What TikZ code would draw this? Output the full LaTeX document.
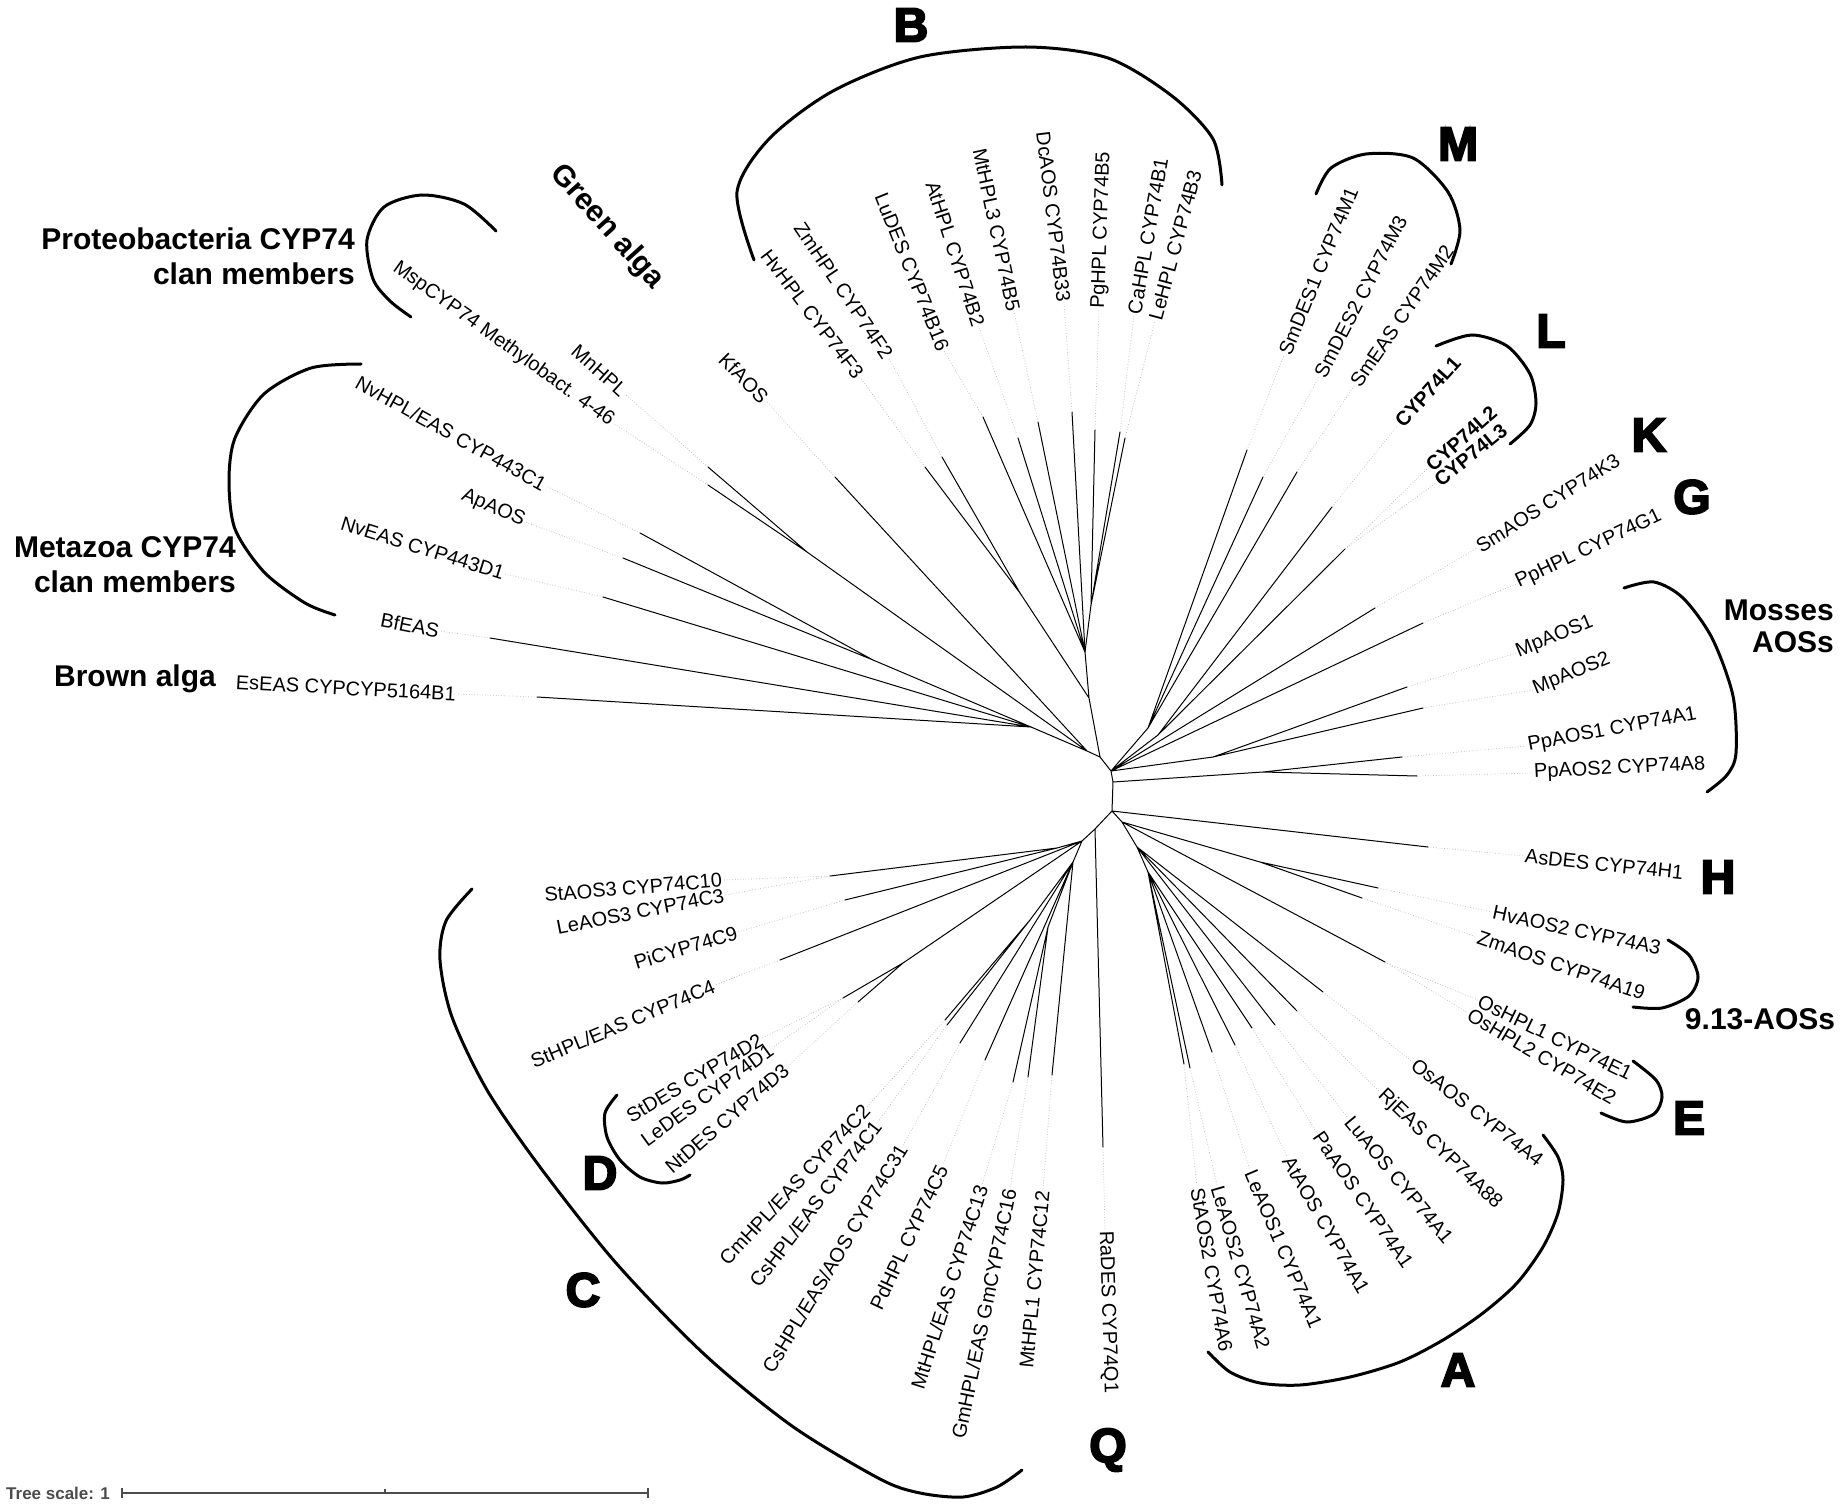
\documentclass[tikz,border=0pt]{standalone}
\usepackage{fontspec}
\setmainfont{Liberation Sans}
\newfontfamily\heavyfont{Liberation Sans}[BoldFeatures={FakeBold=4}]
\usetikzlibrary{calc}
\tikzset{
  br/.style={line width=1pt, line cap=round},
  leader/.style={gray!55, line width=0.7pt, dotted},
  lbl/.style={font=\fontsize{20}{24}\selectfont, inner sep=1pt},
  lblb/.style={font=\bfseries\fontsize{20}{24}\selectfont, inner sep=1pt},
  grp/.style={font=\bfseries\fontsize{30}{34}\selectfont, inner sep=0pt},
  big/.style={font=\heavyfont\bfseries\fontsize{48}{50}\selectfont, inner sep=0pt},
  brk/.style={line width=3pt, line cap=round},
}
\newcommand\lblR[6][lbl]{\node[#1,anchor=west,rotate=#5] (#2) at (#4) {#6};\draw[leader] (#3) -- (#2.west);}
\newcommand\lblL[6][lbl]{\node[#1,anchor=east,rotate=#5] (#2) at (#4) {#6};\draw[leader] (#3) -- (#2.east);}
\begin{document}
\begin{tikzpicture}[x=1pt,y=-1pt]
\path[use as bounding box] (0,0) rectangle (1840,1506);

% internal nodes
\coordinate (N0) at (1111,771);
\coordinate (N1) at (1113,782);
\coordinate (N2) at (1112,811);
\coordinate (NB) at (1100,757);
\coordinate (P2) at (1087,751);
\coordinate (P1) at (1031,727);
\coordinate (Ma) at (873,660);
\coordinate (Pr) at (807,552);
\coordinate (Bn1) at (1089,698);
\coordinate (F) at (1020,593);
\coordinate (Bn2) at (1085,652);
\coordinate (Bn3) at (1091,605);
\coordinate (Mm) at (1148,728);
\coordinate (Ln) at (1158,735);
\coordinate (Mp) at (1213,757);
\coordinate (Pp) at (1263,772);
\coordinate (An1) at (1122,822);
\coordinate (A9) at (1260,862);
\coordinate (An2) at (1137,847);
\coordinate (An3) at (1148,872);
\coordinate (Qn) at (1095,829);
\coordinate (Cn) at (1082,841);
\coordinate (Ca) at (1057,848);
\coordinate (Dn) at (903,963);
\coordinate (Cl) at (1073,862);
\coordinate (CmCs) at (1030,920);
\coordinate (MG) at (1048,927);

% branch ends
\coordinate (eEsEAS) at (537,697);
\coordinate (eBfEAS) at (490,638);
\coordinate (eNvEAS) at (603,597);
\coordinate (eApAOS) at (623,558);
\coordinate (eNvHPL) at (640,533);
\coordinate (eMsp) at (708,485);
\coordinate (eMnHPL) at (708,467);
\coordinate (eKfAOS) at (835,477);
\coordinate (eHvHPL) at (925,467);
\coordinate (eZmHPL) at (942,457);
\coordinate (eLuDES) at (983,417);
\coordinate (eAtHPL) at (1018,438);
\coordinate (eMtHPL3) at (1038,422);
\coordinate (eDcAOS) at (1072,412);
\coordinate (ePgHPL) at (1095,430);
\coordinate (eCaHPL) at (1120,432);
\coordinate (eLeHPL) at (1125,438);
\coordinate (eSmDES1) at (1247,450);
\coordinate (eSmDES2) at (1263,477);
\coordinate (eSmEAS) at (1297,472);
\coordinate (eL1) at (1332,507);
\coordinate (eL23) at (1345,549);
\coordinate (eSmAOS) at (1375,608);
\coordinate (ePpHPL) at (1423,623);
\coordinate (eMpAOS1) at (1407,687);
\coordinate (eMpAOS2) at (1423,708);
\coordinate (ePpAOS1) at (1402,757);
\coordinate (ePpAOS2) at (1417,776);
\coordinate (eAsDES) at (1428,847);
\coordinate (eHvAOS2) at (1378,888);
\coordinate (eZmAOS) at (1362,898);
\coordinate (eE) at (1385,962);
\coordinate (eOsAOS) at (1323,992);
\coordinate (eRjEAS) at (1297,1011);
\coordinate (eLuAOS) at (1275,1025);
\coordinate (ePaAOS) at (1252,1028);
\coordinate (eAtAOS) at (1235,1045);
\coordinate (eLeAOS1) at (1212,1052);
\coordinate (eLeAOS2) at (1190,1068);
\coordinate (eStAOS2) at (1184,1064);
\coordinate (eRaDES) at (1103,1147);
\coordinate (eMtHPL1) at (1052,1075);
\coordinate (eGm) at (1028,1077);
\coordinate (eMtEAS) at (1013,1082);
\coordinate (ePd) at (985,1060);
\coordinate (eCsAOS) at (960,1043);
\coordinate (eCs) at (947,1025);
\coordinate (eCm) at (945,1020);
\coordinate (eD12) at (843,998);
\coordinate (eD3) at (858,1002);
\coordinate (eStHPL) at (780,960);
\coordinate (ePi) at (845,900);
\coordinate (eSL) at (830,876);

% branches
\draw[br] (NB) -- (N0) -- (N1) -- (N2);
\draw[br] (P2) -- (NB) (P1) -- (P2) (Pr) -- (P2) (eKfAOS) -- (P2);
\draw[br] (Ma) -- (P1) (eNvEAS) -- (P1) (eBfEAS) -- (P1) (eEsEAS) -- (P1);
\draw[br] (eNvHPL) -- (Ma) -- (eApAOS);
\draw[br] (eMnHPL) -- (Pr) -- (eMsp);
\draw[br] (Bn1) -- (NB) (F) -- (Bn1) (Bn2) -- (Bn1) (Bn3) -- (Bn2);
\draw[br] (eHvHPL) -- (F) -- (eZmHPL);
\draw[br] (eLuDES) -- (Bn2) (eAtHPL) -- (Bn2) (eMtHPL3) -- (Bn2) (eDcAOS) -- (Bn2);
\draw[br] (ePgHPL) -- (Bn3) (eCaHPL) -- (Bn3) (eLeHPL) -- (Bn3);
\draw[br] (Mm) -- (N0) (Ln) -- (N0) (Mp) -- (N0) (eSmAOS) -- (N0) (ePpHPL) -- (N0);
\draw[br] (eSmDES1) -- (Mm) (eSmDES2) -- (Mm) (eSmEAS) -- (Mm);
\draw[br] (eL1) -- (Ln) -- (eL23);
\draw[br] (eMpAOS1) -- (Mp) -- (eMpAOS2);
\draw[br] (Pp) -- (N1) (ePpAOS1) -- (Pp) -- (ePpAOS2);
\draw[br] (eAsDES) -- (N2) (An1) -- (N2) (Qn) -- (N2);
\draw[br] (A9) -- (An1) (eE) -- (An1) (An2) -- (An1);
\draw[br] (eHvAOS2) -- (A9) -- (eZmAOS);
\draw[br] (eOsAOS) -- (An2) (eRjEAS) -- (An2) (eLuAOS) -- (An2) (An3) -- (An2);
\draw[br] (ePaAOS) -- (An3) (eAtAOS) -- (An3) (eLeAOS1) -- (An3) (eLeAOS2) -- (An3) (eStAOS2) -- (An3);
\draw[br] (eRaDES) -- (Qn) (Cn) -- (Qn);
\draw[br] (Ca) -- (Cn) (eStHPL) -- (Cn) (Dn) -- (Cn) (Cl) -- (Cn);
\draw[br] (eSL) -- (Ca) -- (ePi);
\draw[br] (eD12) -- (Dn) -- (eD3);
\draw[br] (CmCs) -- (Cl) (eCsAOS) -- (Cl) (ePd) -- (Cl) (MG) -- (Cl) (eMtHPL1) -- (Cl);
\draw[br] (eCm) -- (CmCs) -- (eCs);
\draw[br] (eMtEAS) -- (MG) -- (eGm);

% labels left
\lblL{lEsEAS}{eEsEAS}{457,694}{-3}{EsEAS CYPCYP5164B1}
\lblL{lBfEAS}{eBfEAS}{440,631}{-11}{BfEAS}
\lblL{lNvEAS}{eNvEAS}{505,574}{-17.5}{NvEAS CYP443D1}
\lblL{lApAOS}{eApAOS}{525,522}{-23.4}{ApAOS}
\lblL{lNvHPL}{eNvHPL}{546,486}{-29}{NvHPL/EAS CYP443C1}
\lblL{lMsp}{eMsp}{613,423}{-35.8}{MspCYP74 Methylobact. 4-46}
\lblL{lMnHPL}{eMnHPL}{625,394}{-42}{MnHPL}
\lblL{lKfAOS}{eKfAOS}{766,401}{-45.6}{KfAOS}
\lblL{lHvHPL}{eHvHPL}{860,377}{-52.7}{HvHPL CYP74F3}
\lblL{lZmHPL}{eZmHPL}{889,358}{-56}{ZmHPL CYP74F2}
\lblL{lLuDES}{eLuDES}{944,351}{-68}{LuDES CYP74B16}
\lblL{lAtHPL}{eAtHPL}{979,327}{-72}{AtHPL CYP74B2}
\lblL{lMtHPL3}{eMtHPL3}{1014,312}{-78}{MtHPL3 CYP74B5}
\lblL{lDcAOS}{eDcAOS}{1064,303}{-83}{DcAOS CYP74B33}
% labels right
\lblR{lPgHPL}{ePgHPL}{1099,310}{88}{PgHPL CYP74B5}
\lblR{lCaHPL}{eCaHPL}{1134,315}{80}{CaHPL CYP74B1}
\lblR{lLeHPL}{eLeHPL}{1155,321}{75}{LeHPL CYP74B3}
\lblR{lSmDES1}{eSmDES1}{1284,355}{67.7}{SmDES1 CYP74M1}
\lblR{lSmDES2}{eSmDES2}{1319,377}{62.6}{SmDES2 CYP74M3}
\lblR{lSmEAS}{eSmEAS}{1354,386}{55.5}{SmEAS CYP74M2}
\lblR[lblb]{lL1}{eL1}{1398,425}{48}{CYP74L1}
\lblR[lblb]{lL2}{eL23}{1428,468}{41.4}{CYP74L2}
\lblR[lblb]{lL3}{eL23}{1436,483}{39}{CYP74L3}
\lblR{lSmAOS}{eSmAOS}{1477,548}{32.4}{SmAOS CYP74K3}
\lblR{lPpHPL}{ePpHPL}{1516,584}{25.4}{PpHPL CYP74G1}
\lblR{lMpAOS1}{eMpAOS1}{1516,653}{22}{MpAOS1}
\lblR{lMpAOS2}{eMpAOS2}{1533,690}{22}{MpAOS2}
\lblR{lPpAOS1}{ePpAOS1}{1527,746}{10.6}{PpAOS1 CYP74A1}
\lblR{lPpAOS2}{ePpAOS2}{1533,773}{2.8}{PpAOS2 CYP74A8}
\lblR{lAsDES}{eAsDES}{1524,856}{-6}{AsDES CYP74H1}
\lblR{lHvAOS2}{eHvAOS2}{1492,912}{-12.2}{HvAOS2 CYP74A3}
\lblR{lZmAOS}{eZmAOS}{1477,937}{-18.8}{ZmAOS CYP74A19}
\lblR{lOsHPL1}{eE}{1478,1000}{-26}{OsHPL1 CYP74E1}
\lblR{lOsHPL2}{eE}{1468,1013}{-30.6}{OsHPL2 CYP74E2}
\lblR{lOsAOS}{eOsAOS}{1413,1062}{-38}{OsAOS CYP74A4}
\lblR{lRjEAS}{eRjEAS}{1380,1092}{-43.8}{RjEAS CYP74A88}
\lblR{lLuAOS}{eLuAOS}{1348,1118}{-50.5}{LuAOS CYP74A1}
\lblR{lPaAOS}{ePaAOS}{1317,1133}{-55.3}{PaAOS CYP74A1}
\lblR{lAtAOS}{eAtAOS}{1287,1157}{-60.2}{AtAOS CYP74A1}
\lblR{lLeAOS1}{eLeAOS1}{1250,1170}{-67}{LeAOS1 CYP74A1}
\lblR{lLeAOS2}{eLeAOS2}{1217,1185}{-74}{LeAOS2 CYP74A2}
\lblR{lStAOS2}{eStAOS2}{1197,1187}{-80}{StAOS2 CYP74A6}
\lblR{lRaDES}{eRaDES}{1105,1230}{-88.2}{RaDES CYP74Q1}
% labels bottom-left
\lblL{lMtHPL1}{eMtHPL1}{1043,1190}{84.6}{MtHPL1 CYP74C12}
\lblL{lGm}{eGm}{1010,1188}{78.3}{GmHPL/EAS GmCYP74C16}
\lblL{lMtEAS}{eMtEAS}{982,1185}{72.3}{MtHPL/EAS CYP74C13}
\lblL{lPd}{ePd}{943,1165}{64.8}{PdHPL CYP74C5}
\lblL{lCsAOS}{eCsAOS}{903,1145}{59}{CsHPL/EAS/AOS CYP74C31}
\lblL{lCs}{eCs}{878,1122}{52.6}{CsHPL/EAS CYP74C1}
\lblL{lCm}{eCm}{867,1107}{47}{CmHPL/EAS CYP74C2}
\lblL{lNtDES}{eD3}{787,1067}{40.7}{NtDES CYP74D3}
\lblL{lLeDES}{eD12}{772,1048}{36}{LeDES CYP74D1}
\lblL{lStDES}{eD12}{762,1038}{30.7}{StDES CYP74D2}
\lblL{lStHPL}{eStHPL}{715,985}{22.8}{StHPL/EAS CYP74C4}
\lblL{lPi}{ePi}{738,932}{16.7}{PiCYP74C9}
\lblL{lLeAOS3}{eSL}{725,895}{11}{LeAOS3 CYP74C3}
\lblL{lStAOS3}{eSL}{723,880}{4.8}{StAOS3 CYP74C10}

% brackets
\draw[brk] plot[smooth] coordinates {(754,260) (737,192) (769,139) (833,91) (920,57) (1026,47) (1108,58) (1172,96) (1213,139) (1222,185)};
\draw[brk] plot[smooth] coordinates {(1316,194) (1331,168) (1366,154) (1413,158) (1448,192) (1460,230) (1451,264)};
\draw[brk] plot[smooth] coordinates {(1436,346) (1472,335) (1507,346) (1530,374) (1536,403) (1530,425) (1510,444)};
\draw[brk] plot[smooth] coordinates {(1624,588) (1654,582) (1683,598) (1712,638) (1733,696) (1736,753) (1727,775) (1707,792)};
\draw[brk] plot[smooth] coordinates {(1668,940) (1689,955) (1698,977) (1689,996) (1662,1008) (1633,1007)};
\draw[brk] plot[smooth] coordinates {(1633,1061) (1656,1080) (1662,1097) (1654,1114) (1627,1122) (1601,1113)};
\draw[brk] plot[smooth] coordinates {(1543,1135) (1558,1157) (1563,1180) (1558,1213) (1543,1247) (1517,1283) (1483,1313) (1443,1340) (1400,1362) (1350,1377) (1300,1385) (1260,1383) (1230,1372) (1208,1352)};
\draw[brk] plot[smooth] coordinates {(472,889) (446,921) (440,960) (452,1017) (487,1090) (540,1167) (616,1263) (704,1354) (792,1426) (880,1479) (920,1493) (963,1497) (997,1487) (1022,1470)};
\draw[brk] plot[smooth] coordinates {(617,1095) (605,1113) (607,1137) (620,1160) (640,1177) (662,1183) (680,1180) (690,1175)};
\draw[brk] plot[smooth] coordinates {(496,231) (464,204) (422,195) (384,207) (367,240) (373,279) (390,301) (411,317)};
\draw[brk] plot[smooth] coordinates {(361,364) (311,368) (264,394) (235,438) (229,481) (235,529) (264,572) (305,603) (335,615)};

% group texts
\node[grp, anchor=east] (tProt1) at (355,239) {Proteobacteria CYP74};
\node[grp, anchor=east] (tProt2) at (355,274) {clan members};
\node[grp, anchor=east] (tMeta1) at (236,547) {Metazoa CYP74};
\node[grp, anchor=east] (tMeta2) at (236,582) {clan members};
\node[grp] (tBrown) at (135,679) {Brown alga};
\node[grp, rotate=-48] (tGreen) at (607,227) {Green alga};
\node[grp, anchor=east] (tMoss1) at (1834,610) {Mosses};
\node[grp, anchor=east] (tMoss2) at (1834,642) {AOSs};
\node[grp] (t913) at (1760,1019) {9.13-AOSs};

% clade letters
\node[big] (cB) at (911,25) {B};
\node[big] (cM) at (1458,144) {M};
\node[big] (cL) at (1551,331) {L};
\node[big] (cK) at (1649,435) {K};
\node[big] (cG) at (1692,497) {G};
\node[big] (cH) at (1718,877) {H};
\node[big] (cE) at (1689,1118) {E};
\node[big] (cA) at (1458,1370) {A};
\node[big] (cQ) at (1108,1450) {Q};
\node[big] (cC) at (583,1290) {C};
\node[big] (cD) at (600,1173) {D};

% scale bar
\node[font=\bfseries\fontsize{17}{19}\selectfont, text=gray!60!black, anchor=west, inner sep=0pt] (tscale) at (6,1493) {Tree scale: 1};
\coordinate (s0) at (122,1493);
\coordinate (sm) at (385,1493);
\coordinate (s1) at (648,1493);
\draw[gray!60!black, line width=1.2pt] (s0) -- (s1);
\draw[gray!60!black, line width=1.2pt] (s0) ++(0,-5) -- ++(0,10);
\draw[gray!60!black, line width=1.2pt] (s1) ++(0,-5) -- ++(0,10);
\draw[gray!60!black, line width=1.2pt] (sm) ++(0,-4) -- ++(0,4);
\end{tikzpicture}
\end{document}
